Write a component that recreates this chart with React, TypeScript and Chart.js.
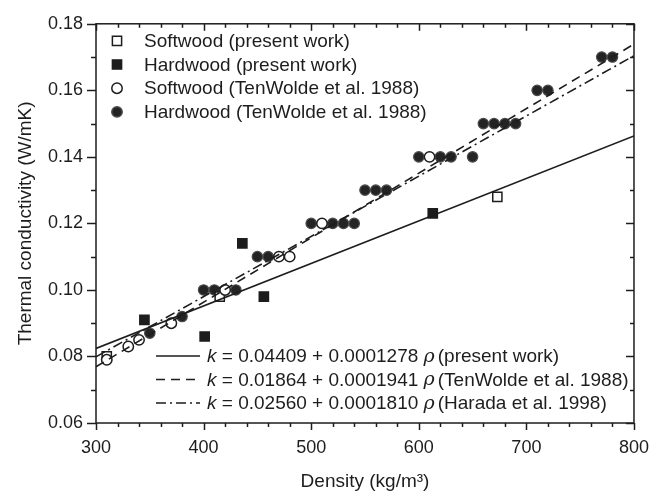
import React, { useEffect, useRef } from 'react';
import { Chart, registerables } from 'chart.js';

Chart.register(...registerables);

// ---------- data ----------
const softwoodPresentX = [310, 415, 673];
const softwoodPresentY = [0.08, 0.098, 0.128];

const hardwoodPresentX = [345, 401, 436, 456, 613];
const hardwoodPresentY = [0.091, 0.086, 0.114, 0.098, 0.123];

const softwoodTenWoldeX = [310, 330, 340, 370, 420, 470, 480, 510, 610];
const softwoodTenWoldeY = [0.079, 0.083, 0.085, 0.09, 0.1, 0.11, 0.11, 0.12, 0.14];

const hardwoodTenWoldeX = [350, 380, 400, 410, 430, 450, 460, 500, 520, 530, 540, 550, 560, 570, 600, 620, 630, 650, 660, 670, 680, 690, 710, 720, 770, 780];
const hardwoodTenWoldeY = [0.087, 0.092, 0.1, 0.1, 0.1, 0.11, 0.11, 0.12, 0.12, 0.12, 0.12, 0.13, 0.13, 0.13, 0.14, 0.14, 0.14, 0.14, 0.15, 0.15, 0.15, 0.15, 0.16, 0.16, 0.17, 0.17];

// fitted lines: values at the two ends of the density axis
const fitX = [300, 800];
const fitPresentWork = [0.0824, 0.1463];
const fitTenWolde = [0.0769, 0.1739];
const fitHarada = [0.0799, 0.1704];

const markerLabels = [
  'Softwood (present work)',
  'Hardwood (present work)',
  'Softwood (TenWolde et al. 1988)',
  'Hardwood (TenWolde et al. 1988)',
];
const markerKinds = ['openSquare', 'filledSquare', 'openCircle', 'filledCircle'];

const eqCoefficients = [
  '= 0.04409 + 0.0001278',
  '= 0.01864 + 0.0001941',
  '= 0.02560 + 0.0001810',
];
const eqSources = ['(present work)', '(TenWolde et al. 1988)', '(Harada et al. 1998)'];

const X_MIN = 300;
const X_MAX = 800;
const X_MAJOR = 100;
const X_MINOR = 20;
const Y_MIN = 0.06;
const Y_MAX = 0.18;

// ---------- styles ----------
const FONT = '"Liberation Sans", Arial, Helvetica, sans-serif';
const INK = '#1d1d1d';
const CIRCLE_FILL = '#242424';
const CIRCLE_EDGE = '#4a4a4a';
const DASH = [9, 6];
const DASH_DOT = [10, 4, 2, 4];
const lineDashes = [[], DASH, DASH_DOT];

function drawMarker(ctx: CanvasRenderingContext2D, kind: string, x: number, y: number) {
  ctx.save();
  ctx.setLineDash([]);
  ctx.lineWidth = 1.5;
  ctx.beginPath();
  if (kind === 'openSquare' || kind === 'filledSquare') {
    const s = 4.6;
    ctx.rect(x - s, y - s, 2 * s, 2 * s);
    ctx.fillStyle = kind === 'openSquare' ? '#ffffff' : INK;
    ctx.strokeStyle = INK;
  } else {
    ctx.arc(x, y, 5.2, 0, Math.PI * 2);
    ctx.fillStyle = kind === 'openCircle' ? '#ffffff' : CIRCLE_FILL;
    ctx.strokeStyle = kind === 'openCircle' ? INK : CIRCLE_EDGE;
  }
  ctx.fill();
  ctx.stroke();
  ctx.restore();
}

const decorPlugin = {
  id: 'decor',
  afterDatasetsDraw(chart: any) {
    const { ctx, chartArea: a, scales } = chart;
    const xs = scales.x;
    const ys = scales.y;
    ctx.save();
    ctx.strokeStyle = INK;
    ctx.lineWidth = 1.5;
    ctx.setLineDash([]);
    ctx.strokeRect(a.left, a.top, a.right - a.left, a.bottom - a.top);

    const seg = (x1: number, y1: number, x2: number, y2: number) => {
      ctx.beginPath();
      ctx.moveTo(x1, y1);
      ctx.lineTo(x2, y2);
      ctx.stroke();
    };

    // x ticks: bottom outward, top inward
    for (let v = X_MIN; v <= X_MAX; v += X_MINOR) {
      const px = Math.round(xs.getPixelForValue(v)) + 0.5;
      const major = v % X_MAJOR === 0;
      const L = major ? 7 : 4;
      seg(px, a.bottom, px, a.bottom + L);
      seg(px, a.top, px, a.top + L);
    }
    // y ticks: left outward, right inward
    for (let i = Math.round(Y_MIN * 100); i <= Math.round(Y_MAX * 100); i++) {
      const py = Math.round(ys.getPixelForValue(i / 100)) + 0.5;
      const major = i % 2 === 0;
      seg(a.left - (major ? 9 : 5), py, a.left, py);
      seg(a.right - (major ? 8 : 4), py, a.right, py);
    }

    // marker legend (top-left)
    ctx.font = `19px ${FONT}`;
    ctx.fillStyle = INK;
    ctx.textBaseline = 'middle';
    ctx.textAlign = 'left';
    markerLabels.forEach((label, i) => {
      const yy = a.top + 17 + i * 23.7;
      drawMarker(ctx, markerKinds[i], a.left + 21, yy);
      ctx.fillStyle = INK;
      ctx.fillText(label, a.left + 48, yy + 1);
    });

    // equation legend (bottom)
    eqCoefficients.forEach((coef, i) => {
      const yy = a.bottom - 67 + i * 23.5;
      ctx.save();
      ctx.strokeStyle = INK;
      ctx.lineWidth = 1.6;
      ctx.setLineDash(lineDashes[i]);
      seg(a.left + 60, yy, a.left + 104, yy);
      ctx.restore();
      let tx = a.left + 111;
      ctx.fillStyle = INK;
      ctx.font = `italic 19px ${FONT}`;
      ctx.fillText('k', tx, yy + 1);
      tx += ctx.measureText('k').width;
      ctx.font = `19px ${FONT}`;
      const mid = ' ' + coef + ' ';
      ctx.fillText(mid, tx, yy + 1);
      tx += ctx.measureText(mid).width;
      ctx.font = `italic 19px "DejaVu Serif", serif`;
      ctx.fillText('\u03C1', tx, yy + 1);
      tx += ctx.measureText('\u03C1').width + 3;
      ctx.font = `19px ${FONT}`;
      ctx.fillText(eqSources[i], tx, yy + 1);
    });
    ctx.restore();
  },
};

function pts(xs: number[], ys: number[]) {
  return xs.map((x, i) => ({ x, y: ys[i] }));
}

export default function App() {
  const canvasRef = useRef<HTMLCanvasElement | null>(null);

  useEffect(() => {
    if (!canvasRef.current) return;
    const lineDs = (data: number[], dash: number[]) => ({
      data: pts(fitX, data),
      showLine: true,
      borderColor: INK,
      borderWidth: 1.6,
      borderDash: dash,
      pointRadius: 0,
      fill: false,
      order: 0,
    });
    const chart = new Chart(canvasRef.current, {
      type: 'scatter',
      data: {
        datasets: [
          lineDs(fitPresentWork, []),
          lineDs(fitTenWolde, DASH),
          lineDs(fitHarada, DASH_DOT),
          {
            label: markerLabels[2],
            data: pts(softwoodTenWoldeX, softwoodTenWoldeY),
            pointStyle: 'circle',
            pointRadius: 5.2,
            backgroundColor: '#ffffff',
            borderColor: INK,
            borderWidth: 1.5,
            order: 1,
          },
          {
            label: markerLabels[0],
            data: pts(softwoodPresentX, softwoodPresentY),
            pointStyle: 'rect',
            pointRadius: 6.5,
            backgroundColor: '#ffffff',
            borderColor: INK,
            borderWidth: 1.5,
            order: 2,
          },
          {
            label: markerLabels[1],
            data: pts(hardwoodPresentX, hardwoodPresentY),
            pointStyle: 'rect',
            pointRadius: 6.5,
            backgroundColor: INK,
            borderColor: INK,
            borderWidth: 1.5,
            order: 3,
          },
          {
            label: markerLabels[3],
            data: pts(hardwoodTenWoldeX, hardwoodTenWoldeY),
            pointStyle: 'circle',
            pointRadius: 5.2,
            backgroundColor: CIRCLE_FILL,
            borderColor: CIRCLE_EDGE,
            borderWidth: 1.2,
            order: 4,
          },
        ],
      },
      options: {
        animation: false,
        responsive: true,
        maintainAspectRatio: false,
        layout: { padding: { left: 0, top: 18, right: 25, bottom: 0 } },
        plugins: { legend: { display: false }, tooltip: { enabled: false } },
        scales: {
          x: {
            type: 'linear',
            min: X_MIN,
            max: X_MAX,
            afterFit: (s: any) => {
              s.height = 71;
            },
            ticks: {
              stepSize: X_MAJOR,
              padding: 14,
              maxRotation: 0,
              color: INK,
              font: { family: FONT, size: 18 },
            },
            grid: { display: false, drawTicks: false },
            border: { display: false },
            title: {
              display: true,
              text: 'Density (kg/m\u00B3)',
              color: INK,
              font: { family: FONT, size: 19 },
              padding: { top: 0, bottom: 1 },
            },
          },
          y: {
            type: 'linear',
            min: Y_MIN,
            max: Y_MAX,
            afterFit: (s: any) => {
              s.width = 96;
            },
            ticks: {
              stepSize: 0.02,
              padding: 13,
              color: INK,
              font: { family: FONT, size: 18 },
              callback: (v: any) => Number(v).toFixed(2),
            },
            grid: { display: false, drawTicks: false },
            border: { display: false },
            title: {
              display: true,
              text: 'Thermal conductivity (W/mK)',
              color: INK,
              font: { family: FONT, size: 19 },
              padding: { top: 14, bottom: 0 },
            },
          },
        },
      },
      plugins: [decorPlugin],
    } as any);
    return () => chart.destroy();
  }, []);

  return (
    <div style={{ position: 'fixed', left: 0, top: 0, width: 663, height: 494, background: '#ffffff' }}>
      <canvas ref={canvasRef} />
    </div>
  );
}
